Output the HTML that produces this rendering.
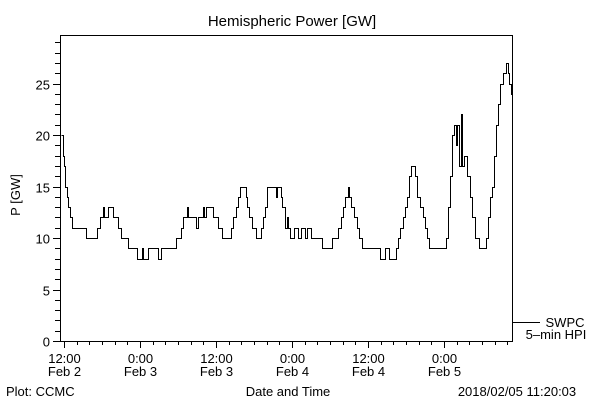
<!DOCTYPE html>
<html><head><meta charset="utf-8"><style>
body{margin:0;background:#fff}
svg{display:block}
text{font-family:"Liberation Sans",sans-serif;font-size:13px;fill:#000}
</style></head><body>
<svg id="s" width="600" height="400" xmlns="http://www.w3.org/2000/svg">
<text x="292" y="26" text-anchor="middle" style="font-size:15px">Hemispheric Power [GW]</text>
<rect x="60.5" y="35.5" width="452" height="306" fill="none" stroke="#000"/>
<g id="ticks" stroke="#000"></g>
<g id="lab"></g>
<text x="20" y="195" transform="rotate(-90 20 195)" text-anchor="middle">P [GW]</text>
<path id="d" fill="none" stroke="#000" stroke-width="1"/>
<line x1="512" y1="322.5" x2="540" y2="322.5" stroke="#000"/>
<text x="565" y="327" text-anchor="middle">SWPC</text>
<text x="556" y="339" text-anchor="middle">5–min HPI</text>
<text x="288" y="396" text-anchor="middle">Date and Time</text>
<text x="6" y="396">Plot: CCMC</text>
<text x="517" y="396" text-anchor="middle">2018/02/05 11:20:03</text>
</svg>
<script>
var ns="http://www.w3.org/2000/svg",T=document.getElementById("ticks"),L=document.getElementById("lab");
function ln(a,b,c,d){var e=document.createElementNS(ns,"line");e.setAttribute("x1",a);e.setAttribute("y1",b);e.setAttribute("x2",c);e.setAttribute("y2",d);T.appendChild(e);}
function tx(x,y,s,a){var e=document.createElementNS(ns,"text");e.setAttribute("x",x);e.setAttribute("y",y);if(a)e.setAttribute("text-anchor",a);e.textContent=s;L.appendChild(e);}
function Y(v){return Math.round(341-10.3*v)+.5;}
for(var v=0;v<=29;v++){var y=Y(v);ln(v%5?55:53,y,60,y);if(v%5==0)tx(50,y+5,""+v,"end");}
var labs=[["12:00","Feb 2"],["0:00","Feb 3"],["12:00","Feb 3"],["0:00","Feb 4"],["12:00","Feb 4"],["0:00","Feb 5"]];
for(var h=0;h<=70;h+=2){var x=Math.round(64+h*76/12)+.5;ln(x,341,x,h%12?345:348);if(h%12==0){var l=labs[h/12];tx(x,363,l[0],"middle");tx(x,376,l[1],"middle");}}
var p=[[61,20],[63,18],[64,17],[65,15],[67,14],[68,13],[70,12],[72,11],[86,10],[97,11],[100,12],[103,13],[104,12],[108,13],[113,12],[118,11],[121,10],[124,10],[128,9],[137,8],[142,9],[143,8],[148,9],[158,8],[161,9],[176,10],[181,11],[183,12],[187,13],[188,12],[196,11],[198,12],[203,13],[204,12],[206,13],[213,12],[218,11],[222,10],[231,11],[233,12],[236,13],[238,14],[240,15],[246,14],[247,13],[249,12],[252,11],[256,10],[261,11],[263,12],[265,13],[267,15],[276,14],[277,15],[281,14],[282,13],[285,11],[287,12],[288,11],[290,10],[294,11],[298,10],[301,11],[305,10],[307,11],[311,10],[322,9],[332,10],[338,11],[341,12],[343,13],[345,14],[348,15],[349,14],[351,13],[354,12],[357,11],[359,10],[362,9],[380,8],[385,9],[389,8],[396,9],[398,10],[400,11],[403,12],[405,13],[407,14],[409,16],[411,17],[415,16],[417,14],[420,13],[423,12],[425,11],[427,10],[429,9],[446,10],[448,13],[450,16],[452,20],[454,21],[456,19],[457,21],[459,17],[461,22],[462,17],[464,18],[467,16],[470,14],[472,12],[475,10],[479,9],[486,10],[488,12],[490,14],[492,15],[494,18],[496,21],[498,23],[500,25],[503,26],[506,27],[508,26],[509,25],[511,24]];
var d="M"+(p[0][0]+.5)+" "+Y(p[0][1]);
for(var i=1;i<p.length;i++){d+=" H"+(p[i][0]+.5)+" V"+Y(p[i][1]);}
d+=" H512";
document.getElementById("d").setAttribute("d",d);
</script>
</body></html>
